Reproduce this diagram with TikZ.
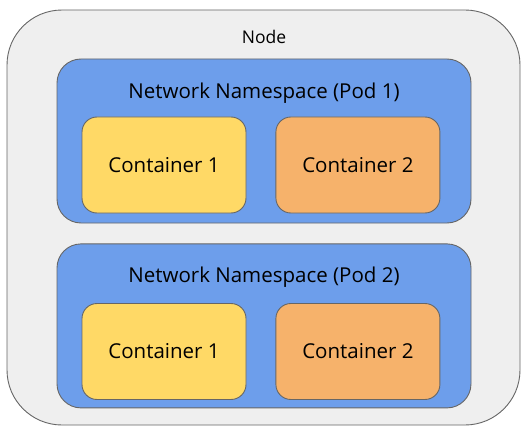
\documentclass[tikz,border=0pt]{standalone}
\usepackage{fontspec}
\setmainfont{Open Sans}
\usetikzlibrary{positioning}
\definecolor{edgegray}{HTML}{666666}
\definecolor{hostfill}{HTML}{EFEFEF}
\definecolor{podblue}{HTML}{6D9EEB}
\definecolor{ctyellow}{HTML}{FFD966}
\definecolor{ctorange}{HTML}{F6B26B}

\begin{document}
\begin{tikzpicture}[
  x=1pt, y=-1pt,
  font=\fontsize{20.5}{24}\selectfont,
  hostbox/.style={draw=edgegray, fill=hostfill, line width=0.9pt, rounded corners=55pt,
                  minimum width=513pt, minimum height=415pt, inner sep=0pt},
  podbox/.style={draw=edgegray, fill=podblue, line width=0.9pt, rounded corners=24pt,
                 minimum width=414pt, minimum height=164pt, inner sep=0pt},
  ctbox/.style={draw=edgegray, line width=0.9pt, rounded corners=15pt,
                minimum width=164pt, minimum height=96pt, inner sep=0pt},
  lbl/.style={inner sep=0pt}
]
\useasboundingbox (0,0) rectangle (528,436);

% Host machine
\node[hostbox] (host) at (263.5,217.5) {};
\node[lbl, font=\fontsize{17.5}{20}\selectfont] (hostlbl) at (264,37) {Node};

% Pods
\node[podbox] (pod1) at (264,141) {};
\node[podbox, below=20pt of pod1] (pod2) {};
\node[lbl] (pod1lbl) at (264,93) {Network Namespace (Pod 1)};
\node[lbl] (pod2lbl) at (264,277) {Network Namespace (Pod 2)};

% Containers
\node[ctbox, fill=ctyellow] (c11) at (164,165) {Container 1};
\node[ctbox, fill=ctorange, right=29pt of c11] (c12) {Container 2};
\node[ctbox, fill=ctyellow] (c21) at (164,351.5) {Container 1};
\node[ctbox, fill=ctorange, right=29pt of c21] (c22) {Container 2};
\end{tikzpicture}
\end{document}
